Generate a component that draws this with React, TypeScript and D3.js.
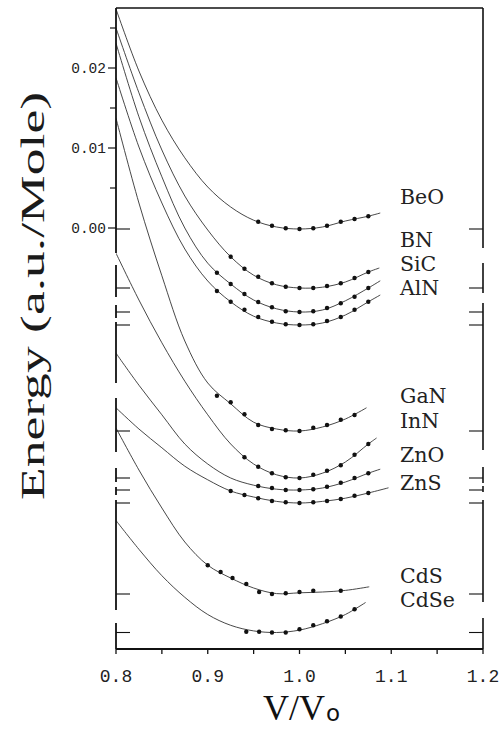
import React from "react";
import * as d3 from "d3";

// ---------- data (energies: zero levels in a.u., curve values in 1e-3 a.u. above zero) ----------
const materials = ["BeO", "BN", "SiC", "AlN", "GaN", "InN", "ZnO", "ZnS", "CdS", "CdSe"];
const zeroLevels = [-0.000125, -0.0075, -0.0105, -0.012125, -0.025375, -0.03125, -0.03275, -0.034375, -0.04575, -0.0505625];
const labelLevels = [0.003, -0.002375, -0.005375, -0.008375, -0.021875, -0.025, -0.02925, -0.03275, -0.044375, -0.047375];

const beoLine = [[0.8, 27.5], [0.825, 19.75], [0.85, 13.6], [0.875, 8.9], [0.9, 5.25], [0.925, 2.75], [0.95, 1.1], [0.975, 0.25], [1.0, 0], [1.025, 0.25], [1.05, 1.0], [1.075, 1.6], [1.088, 2.0]];
const beoDots = [[0.955, 0.9], [0.97, 0.4], [0.985, 0.1], [1.0, 0], [1.015, 0.1], [1.03, 0.4], [1.045, 0.9], [1.06, 1.25], [1.075, 1.6]];

const bnLine = [[0.8, 32.5], [0.825, 24.4], [0.85, 17.25], [0.875, 11.5], [0.9, 7.25], [0.925, 3.9], [0.95, 1.6], [0.975, 0.4], [1.0, 0], [1.025, 0.1], [1.05, 0.75], [1.075, 2.0], [1.087, 2.5]];
const bnDots = [[0.925, 3.9], [0.94, 2.4], [0.955, 1.4], [0.97, 0.6], [0.985, 0.15], [1.0, 0], [1.015, 0], [1.03, 0.25], [1.045, 0.6], [1.06, 1.25], [1.075, 2.0]];

const sicLine = [[0.8, 33.6], [0.825, 24.4], [0.85, 16.9], [0.875, 10.5], [0.9, 6.1], [0.925, 3.5], [0.95, 1.5], [0.975, 0.4], [1.0, 0], [1.025, 0.25], [1.05, 1.4], [1.075, 3.0], [1.088, 3.9]];
const sicDots = [[0.91, 4.9], [0.925, 3.5], [0.94, 2.25], [0.955, 1.25], [0.97, 0.6], [0.985, 0.1], [1.0, 0], [1.015, 0.1], [1.03, 0.5], [1.045, 1.1], [1.06, 1.9], [1.075, 3.0]];

const alnLine = [[0.8, 30.9], [0.825, 22.25], [0.85, 15.25], [0.875, 9.5], [0.9, 5.5], [0.925, 2.9], [0.95, 1.1], [0.975, 0.25], [1.0, 0], [1.025, 0.25], [1.05, 1.25], [1.075, 2.9], [1.088, 3.75]];
const alnDots = [[0.91, 4.25], [0.925, 2.9], [0.94, 1.9], [0.955, 1.0], [0.97, 0.4], [0.985, 0.1], [1.0, 0], [1.015, 0.1], [1.03, 0.5], [1.045, 1.0], [1.06, 1.9], [1.075, 2.9]];

const ganLine = [[0.8, 39.1], [0.825, 28.5], [0.85, 19.4], [0.875, 11.25], [0.9, 6.0], [0.925, 3.4], [0.95, 1.1], [0.975, 0.25], [1.0, 0], [1.025, 0.5], [1.05, 1.5], [1.073, 2.9]];
const ganDots = [[0.91, 4.4], [0.925, 3.6], [0.94, 2.1], [0.955, 0.75], [0.97, 0.25], [0.985, 0.1], [1.0, 0], [1.015, 0.4], [1.03, 0.75], [1.045, 1.4], [1.06, 2.0]];

const innLine = [[0.8, 28.1], [0.825, 22.25], [0.85, 16.9], [0.875, 12.1], [0.9, 7.9], [0.925, 4.25], [0.95, 1.75], [0.975, 0.4], [1.0, 0], [1.025, 0.6], [1.05, 2.0], [1.075, 4.25], [1.084, 5.0]];
const innDots = [[0.94, 2.6], [0.955, 1.4], [0.97, 0.6], [0.985, 0.1], [1.0, 0], [1.015, 0.4], [1.03, 0.9], [1.045, 1.6], [1.06, 2.9], [1.075, 4.25]];

const znoLine = [[0.8, 17.1], [0.825, 13.1], [0.85, 9.4], [0.875, 5.75], [0.9, 3.25], [0.925, 1.5], [0.95, 0.6], [0.975, 0.1], [1.0, 0], [1.025, 0.25], [1.05, 1.0], [1.075, 2.1], [1.088, 2.6]];
const znoDots = [[0.955, 0.5], [0.97, 0.25], [0.985, 0], [1.0, 0], [1.015, 0.1], [1.03, 0.4], [1.045, 0.9], [1.06, 1.5], [1.075, 2.1]];

const znsLine = [[0.8, 11.9], [0.825, 9.25], [0.85, 6.9], [0.875, 4.6], [0.9, 2.9], [0.925, 1.5], [0.95, 0.75], [0.975, 0.2], [1.0, 0], [1.025, 0.2], [1.05, 0.6], [1.075, 1.25], [1.097, 1.9]];
const znsDots = [[0.925, 1.5], [0.94, 1.0], [0.955, 0.6], [0.97, 0.25], [0.985, 0.1], [1.0, 0], [1.015, 0.1], [1.03, 0.25], [1.045, 0.5], [1.06, 0.9], [1.075, 1.25]];

const cdsLine = [[0.8, 20.75], [0.825, 15.5], [0.85, 10.75], [0.875, 6.5], [0.9, 3.6], [0.925, 2.0], [0.95, 0.75], [0.975, 0.05], [1.0, 0.15], [1.025, 0.25], [1.05, 0.45], [1.076, 0.9]];
const cdsDots = [[0.9, 3.6], [0.914, 2.75], [0.927, 2.0], [0.942, 1.25], [0.956, 0.25], [0.97, 0], [0.985, 0.1], [1.0, 0.25], [1.015, 0.4], [1.045, 0.4]];

const cdseLine = [[0.8, 14.0], [0.825, 10.4], [0.85, 7.1], [0.875, 4.4], [0.9, 2.25], [0.925, 0.9], [0.95, 0.2], [0.975, 0], [1.0, 0.3], [1.025, 1.1], [1.05, 2.25], [1.072, 3.75]];
const cdseDots = [[0.942, 0.1], [0.956, 0.1], [0.97, 0], [0.985, 0], [1.0, 0.4], [1.015, 0.9], [1.03, 1.4], [1.045, 2.0], [1.06, 2.9]];

const curveLines = [beoLine, bnLine, sicLine, alnLine, ganLine, innLine, znoLine, znsLine, cdsLine, cdseLine];
const curveDots = [beoDots, bnDots, sicDots, alnDots, ganDots, innDots, znoDots, znsDots, cdsDots, cdseDots];

// axis ticks
const xTicks = [0.8, 0.85, 0.9, 0.95, 1.0, 1.05, 1.1, 1.15, 1.2];
const xTickLabels = [0.8, 0.9, 1.0, 1.1, 1.2];
const yTickLabels = [0.02, 0.01, 0.0];
const yMinorTicks = [0.025, 0.015, 0.005];

// broken-axis segments (energy ranges)
const leftSegments = [[0.0275, -0.003125], [-0.004625, -0.008625], [-0.009625, -0.01125], [-0.01175, -0.019375], [-0.02125, -0.028], [-0.03, -0.03175], [-0.032375, -0.033375], [-0.034, -0.04775], [-0.049375, -0.052625]];
const rightSegments = [[0.0275, -0.0025], [-0.004375, -0.008125], [-0.009375, -0.02775], [-0.029875, -0.031875], [-0.03225, -0.033], [-0.034, -0.04675], [-0.04875, -0.052625]];

export default function App() {
  const W = 504, H = 729;
  const left = 116, right = 483, top = 8, bottom = 649;
  const x = d3.scaleLinear().domain([0.8, 1.2]).range([left, right]);
  const y = d3.scaleLinear().domain([-0.052625, 0.0275]).range([bottom, top]);
  const line = d3
    .line<number[]>()
    .x((d) => x(d[0]))
    .y((d) => d[1])
    .curve(d3.curveCatmullRom.alpha(0.5));

  const ink = "#111";
  const mono = "'Liberation Mono', 'DejaVu Sans Mono', monospace";
  const serif = "'DejaVu Serif', serif";

  return (
    <svg width={W} height={H} viewBox={`0 0 ${W} ${H}`} style={{ display: "block", position: "absolute", left: 0, top: 0, background: "#fff" }}>
      <defs>
        <clipPath id="plot">
          <rect x={left} y={top} width={right - left} height={bottom - top} />
        </clipPath>
      </defs>

      {/* curves */}
      <g clipPath="url(#plot)">
        {curveLines.map((pts, i) => (
          <path
            key={materials[i]}
            d={line(pts.map((p) => [p[0], y(zeroLevels[i] + p[1] / 1000)])) || ""}
            fill="none"
            stroke="#333"
            strokeWidth={0.9}
          />
        ))}
        {curveDots.map((pts, i) =>
          pts.map((p, j) => (
            <circle key={materials[i] + j} cx={x(p[0])} cy={y(zeroLevels[i] + p[1] / 1000)} r={2.2} fill={ink} />
          ))
        )}
      </g>

      {/* top border */}
      <line x1={left} x2={right} y1={top} y2={top} stroke={ink} strokeWidth={1.6} />
      {/* bottom axis */}
      <line x1={left} x2={right} y1={bottom} y2={bottom} stroke={ink} strokeWidth={2} />
      {xTicks.map((t) => (
        <line key={t} x1={x(t)} x2={x(t)} y1={bottom} y2={bottom + 5} stroke={ink} strokeWidth={1.3} />
      ))}
      {xTickLabels.map((t) => (
        <text key={t} x={x(t)} y={682} textAnchor="middle" fontFamily={mono} fontSize={18} fill="#222">
          {d3.format(".1f")(t)}
        </text>
      ))}

      {/* left broken axis */}
      {leftSegments.map((s, i) => (
        <line key={i} x1={left} x2={left} y1={y(s[0])} y2={y(s[1])} stroke={ink} strokeWidth={1.8} />
      ))}
      {yTickLabels.map((t) => (
        <g key={t}>
          <line x1={left - 8} x2={left} y1={y(t)} y2={y(t)} stroke={ink} strokeWidth={1.2} />
          <text x={left - 10} y={y(t)} dy="0.35em" textAnchor="end" fontFamily={mono} fontSize={14.5} fill="#222">
            {d3.format(".2f")(t)}
          </text>
        </g>
      ))}
      {yMinorTicks.map((t) => (
        <line key={t} x1={left - 6} x2={left} y1={y(t)} y2={y(t)} stroke={ink} strokeWidth={1.2} />
      ))}
      {zeroLevels.map((z, i) => (
        <line key={"lz" + i} x1={left} x2={left + 14} y1={y(z)} y2={y(z)} stroke={ink} strokeWidth={1.1} />
      ))}

      {/* right broken axis */}
      {rightSegments.map((s, i) => (
        <line key={i} x1={right} x2={right} y1={y(s[0])} y2={y(s[1])} stroke={ink} strokeWidth={1.6} />
      ))}
      {zeroLevels.map((z, i) => (
        <line key={"rz" + i} x1={right - 14} x2={right} y1={y(z)} y2={y(z)} stroke={ink} strokeWidth={1.1} />
      ))}

      {/* curve labels */}
      {materials.map((m, i) => (
        <text key={m} x={400} y={y(labelLevels[i])} fontFamily={serif} fontSize={20.5} fill="#222">
          {m}
        </text>
      ))}

      {/* axis titles */}
      <text
        transform="translate(44,296) rotate(-90)"
        textAnchor="middle"
        fontFamily="'Liberation Serif', serif"
        fontSize={34}
        textLength={408}
        lengthAdjust="spacingAndGlyphs"
        fill="#1a1a1a"
      >
        Energy (a.u./Mole)
      </text>
      <text x={263} y={720} fontFamily="'Liberation Serif', serif" fontSize={36} fill="#111">
        V/V
      </text>
      <text x={326} y={721} fontFamily="'DejaVu Sans', sans-serif" fontSize={23} fill="#111">
        o
      </text>
    </svg>
  );
}
